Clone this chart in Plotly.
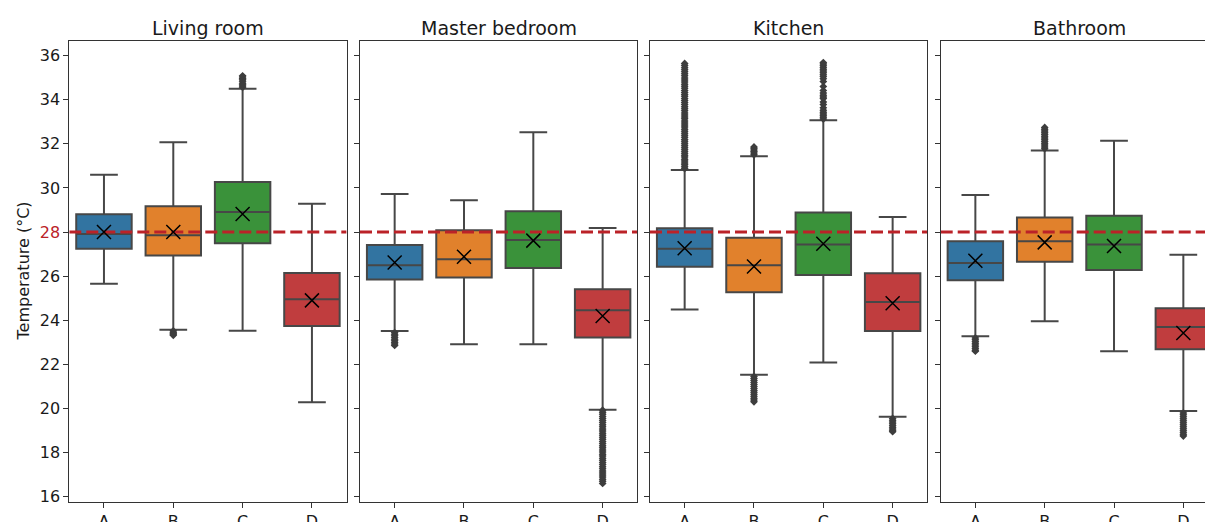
import plotly.graph_objects as go

# Summary statistics of indoor temperature (°C) per room and group
ROOMS = ["Living room", "Master bedroom", "Kitchen", "Bathroom"]
GROUPS = ["A", "B", "C", "D"]

LOW_WHISKER = [
    [25.66, 23.57, 23.52, 20.28],
    [23.51, 22.91, 22.91, 19.94],
    [24.49, 21.53, 22.09, 19.62],
    [23.28, 23.95, 22.59, 19.88],
]
Q1 = [
    [27.24, 26.94, 27.49, 23.74],
    [25.85, 25.94, 26.37, 23.22],
    [26.43, 25.27, 26.05, 23.51],
    [25.81, 26.65, 26.28, 22.68],
]
MEDIAN = [
    [27.91, 27.85, 28.91, 24.95],
    [26.49, 26.76, 27.64, 24.45],
    [27.24, 26.49, 27.43, 24.83],
    [26.59, 27.58, 27.43, 23.69],
]
Q3 = [
    [28.80, 29.17, 30.27, 26.14],
    [27.41, 28.08, 28.94, 25.40],
    [28.17, 27.74, 28.89, 26.13],
    [27.58, 28.66, 28.74, 24.54],
]
HIGH_WHISKER = [
    [30.60, 32.07, 34.50, 29.28],
    [29.72, 29.44, 32.52, 28.18],
    [30.81, 31.43, 33.07, 28.68],
    [29.68, 31.70, 32.14, 26.97],
]
MEAN = [
    [28.00, 28.00, 28.82, 24.90],
    [26.62, 26.88, 27.61, 24.19],
    [27.26, 26.44, 27.47, 24.77],
    [26.70, 27.53, 27.37, 23.42],
]

# Readings beyond the whiskers
OUTLIERS = [
    [
        [],
        [23.52, 23.46, 23.41, 23.36, 23.32],
        [34.56, 34.62, 34.68, 34.75, 34.83, 34.90, 34.96, 35.03, 35.08],
        [],
    ],
    [
        [23.44, 23.37, 23.30, 23.22, 23.14, 23.07, 22.99, 22.92, 22.86],
        [],
        [],
        [19.92, 19.83, 19.74, 19.64, 19.55, 19.45, 19.36, 19.26, 19.17, 19.07,
         18.98, 18.88, 18.79, 18.69, 18.60, 18.50, 18.41, 18.31, 18.22, 18.12,
         18.03, 17.93, 17.84, 17.74, 17.65, 17.55, 17.46, 17.36, 17.27, 17.17,
         17.08, 16.98, 16.89, 16.79, 16.70, 16.60],
    ],
    [
        [30.88, 30.96, 31.05, 31.13, 31.22, 31.30, 31.40, 31.48, 31.57, 31.66,
         31.75, 31.84, 31.93, 32.02, 32.11, 32.20, 32.30, 32.39, 32.48, 32.57,
         32.66, 32.76, 32.85, 32.94, 33.03, 33.13, 33.22, 33.31, 33.40, 33.50,
         33.59, 33.68, 33.78, 33.87, 33.96, 34.05, 34.15, 34.24, 34.33, 34.42,
         34.52, 34.61, 34.70, 34.80, 34.89, 34.98, 35.08, 35.17, 35.27, 35.36,
         35.45, 35.55, 35.64],
        [31.50, 31.58, 31.65, 31.72, 31.80, 31.86,
         21.45, 21.36, 21.27, 21.18, 21.09, 21.00, 20.91, 20.82, 20.73, 20.64,
         20.55, 20.46, 20.38, 20.30],
        [33.12, 33.20, 33.27, 33.35, 33.43, 33.52, 33.63, 33.78, 33.90, 34.05,
         34.12, 34.20, 34.30, 34.42, 34.60, 34.82, 34.95, 35.05, 35.13, 35.22,
         35.30, 35.38, 35.46, 35.54, 35.62, 35.68],
        [19.55, 19.47, 19.39, 19.31, 19.23, 19.15, 19.07, 18.99, 18.95],
    ],
    [
        [23.20, 23.12, 23.04, 22.96, 22.88, 22.80, 22.72, 22.64, 22.60],
        [31.78, 31.86, 31.94, 32.02, 32.10, 32.18, 32.26, 32.34, 32.42, 32.50,
         32.58, 32.66, 32.74],
        [],
        [19.80, 19.71, 19.62, 19.53, 19.44, 19.35, 19.26, 19.17, 19.08, 18.99,
         18.90, 18.81, 18.75],
    ],
]

THRESHOLD = 28
Y_TICKS = list(range(16, 37, 2))

BOX_COLORS = ["#3274a1", "#e1812c", "#3a923a", "#c03d3e"]
EDGE = "#474747"
LINE_RED = "#bb2228"
SPINE = "#333333"
TEXT = "#1a1a1a"
FONT = "DejaVu Sans"

W, H = 1205, 522
PANEL_LEFT = [69.3, 360.0, 650.0, 940.7]
PANEL_W = 277.3
PLOT_TOP, PLOT_BOTTOM = 41, 502
Y_RANGE = [15.76, 36.66]

fig = go.Figure()
layout = {}

for i, room in enumerate(ROOMS):
    sfx = "" if i == 0 else str(i + 1)
    xa, ya = "x" + sfx, "y" + sfx
    left = PANEL_LEFT[i]
    right = min(left + PANEL_W, W)
    x_hi = -0.5 + 4 * (right - left) / PANEL_W

    for j, g in enumerate(GROUPS):
        fig.add_trace(go.Box(
            x=[j], q1=[Q1[i][j]], median=[MEDIAN[i][j]], q3=[Q3[i][j]],
            lowerfence=[LOW_WHISKER[i][j]], upperfence=[HIGH_WHISKER[i][j]],
            width=0.8, whiskerwidth=0.5, boxpoints=False,
            fillcolor=BOX_COLORS[j], line=dict(color=EDGE, width=2),
            xaxis=xa, yaxis=ya, showlegend=False, hoverinfo="skip",
        ))
        pts = OUTLIERS[i][j]
        if pts:
            fig.add_trace(go.Scatter(
                x=[j] * len(pts), y=pts, mode="markers",
                marker=dict(symbol="diamond", size=6, color="#3d3d3d",
                            line=dict(width=0)),
                xaxis=xa, yaxis=ya, showlegend=False, hoverinfo="skip",
            ))

    # comfort threshold across the whole panel
    fig.add_trace(go.Scatter(
        x=[-0.5, x_hi], y=[THRESHOLD, THRESHOLD], mode="lines",
        line=dict(color=LINE_RED, width=3, dash="12px,5px"),
        xaxis=xa, yaxis=ya, showlegend=False, hoverinfo="skip",
    ))

    fig.add_trace(go.Scatter(
        x=list(range(len(GROUPS))), y=MEAN[i], mode="markers",
        marker=dict(symbol="x-thin", size=14, color="black",
                    line=dict(color="black", width=1.5)),
        xaxis=xa, yaxis=ya, showlegend=False, hoverinfo="skip",
    ))

    layout["xaxis" + sfx] = dict(
        domain=[left / W, right / W], range=[-0.5, x_hi], anchor=ya,
        automargin=False,
        tickvals=list(range(len(GROUPS))), ticktext=GROUPS,
        ticks="outside", ticklen=5, tickwidth=1, tickcolor=SPINE,
        showline=True, linecolor=SPINE, linewidth=1, mirror=True,
        showgrid=False, zeroline=False,
        tickfont=dict(family=FONT, size=16, color=TEXT),
    )
    layout["yaxis" + sfx] = dict(
        domain=[1 - PLOT_BOTTOM / H, 1 - PLOT_TOP / H], range=Y_RANGE,
        anchor=xa, automargin=False, tickvals=Y_TICKS,
        ticktext=[f"<span style='color:{LINE_RED}'>{v}</span>" if v == THRESHOLD
                  else str(v) for v in Y_TICKS],
        ticks="outside", ticklen=5, tickwidth=1, tickcolor=SPINE,
        showticklabels=(i == 0),
        showline=True, linecolor=SPINE, linewidth=1, mirror=(i < 3),
        showgrid=False, zeroline=False,
        tickfont=dict(family=FONT, size=16, color=TEXT),
    )

annotations = []
for i, room in enumerate(ROOMS):
    cx = PANEL_LEFT[i] + PANEL_W / 2
    annotations.append(dict(
        text=room, xref="paper", yref="paper", x=cx / W, y=1 - PLOT_TOP / H,
        xanchor="center", yanchor="bottom", showarrow=False, yshift=0,
        font=dict(family=FONT, size=19, color=TEXT),
    ))
annotations.append(dict(
    text="Temperature (°C)", xref="paper", yref="paper",
    x=23 / W, y=1 - ((PLOT_TOP + PLOT_BOTTOM) / 2) / H,
    xanchor="center", yanchor="middle", textangle=-90, showarrow=False,
    font=dict(family=FONT, size=16, color=TEXT),
))

fig.update_layout(
    width=W, height=H,
    margin=dict(l=0, r=0, t=0, b=0, autoexpand=False),
    paper_bgcolor="white", plot_bgcolor="white",
    boxmode="overlay",
    annotations=annotations,
    **layout,
)

fig.write_html("out.html")
